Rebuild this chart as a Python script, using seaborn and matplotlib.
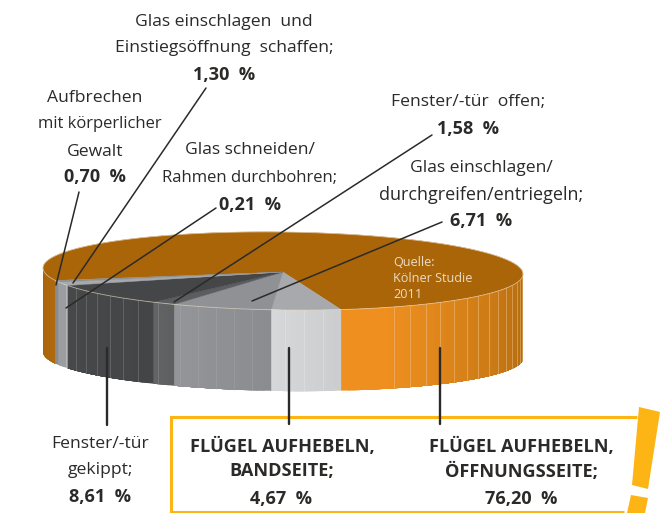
import numpy as np
import matplotlib
matplotlib.use("Agg")
import matplotlib.pyplot as plt
import pandas as pd
import seaborn as sns

# ---- data, in drawing order (from the orange slice's front edge, clockwise on screen)
categories = ["Flügel aufhebeln, Öffnungsseite", "Flügel aufhebeln, Bandseite",
              "Glas einschlagen/durchgreifen/entriegeln", "Fenster/-tür offen",
              "Fenster/-tür gekippt", "Glas schneiden/Rahmen durchbohren",
              "Glas einschlagen und Einstiegsöffnung schaffen", "Aufbrechen mit körperlicher Gewalt"]
values = [76.20, 4.67, 6.71, 1.58, 8.61, 0.21, 1.30, 0.70]
top_colors = ["#AA6509", "#A7A9AC", "#8F9194", "#5C5D60", "#454648", "#6F7072", "#A7A9AC", "#8E9093"]
side_front = ["#EE8F1F", "#D6D7D9", "#939598", "#636466", "#47484A", "#9B9DA0", "#9B9DA0", "#8A8B8E"]
side_back = ["#AE690E", "#CBCDCF", "#8A8C8F", "#5E5F61", "#444547", "#9B9DA0", "#9B9DA0", "#8A8B8E"]

sns.set_theme(style="white", rc={"font.family": ["Open Sans", "DejaVu Sans"]})
fig = plt.figure(figsize=(6.61, 5.13), dpi=100)
ax = fig.add_axes([0, 0, 1, 1])
sns.despine(ax=ax, left=True, bottom=True)

# ---- pie geometry: angles grow from +x toward the viewer (screen y points down)
CX, CY, RX, RY, TILT = 283, 271, 240, 39, 0.0125
DEPTH_C, RY_B = 84, 36
ORANGE_FRONT = 76.0
STEP = 4.5


def top_pt(a):
    x = CX + RX * np.cos(np.radians(a))
    return x, CY + RY * np.sin(np.radians(a)) + (x - CX) * TILT


def bot_pt(a):
    x = CX + RX * np.cos(np.radians(a))
    return x, CY + DEPTH_C + RY_B * np.sin(np.radians(a)) + (x - CX) * TILT


def arc(a0, a1, fn, n=None):
    n = n or max(2, int(abs(a1 - a0)) + 2)
    return np.array([fn(a) for a in np.linspace(a0, a1, n)]).T


fracs = np.array(values) / sum(values) * 360
edges = ORANGE_FRONT + np.r_[0, np.cumsum(fracs[1:])]
spans = [(edges[0], edges[-1] - 360)] + [(edges[i - 1], edges[i]) for i in range(1, len(values))]

for i, (a0, a1) in enumerate(spans):
    xs, ys = arc(a0, a1, top_pt)
    ax.fill(np.r_[CX, xs], np.r_[CY + 1, ys], color=top_colors[i], lw=0.3, ec=top_colors[i], zorder=2)

# side faces: coarse overlapping bands for a smooth shade, thin highlights every STEP degrees
for i, (a0, a1) in enumerate(spans):
    pieces = [(a0, 0.0), (180.0, a1 + 360)] if i == 0 else [(a0, a1)]
    for p0, p1 in pieces:
        n = max(1, int(round(abs(p1 - p0) / 1.5)))
        ae = np.linspace(p0, p1, n + 1)
        if i == 0 and p0 > 100:
            pal = sns.blend_palette(["#A96408", "#AE690E"], n)
        elif i == 0:
            hold = int(n * 0.14)
            pal = [side_front[0]] * hold + list(sns.blend_palette([side_front[0], side_back[0]], n - hold))
        else:
            pal = sns.blend_palette([side_back[i], side_front[i]], n)
        # each band runs from its own start to the far end, so later bands cover the seams
        for k in range(n):
            tx, ty = arc(ae[k], p1, top_pt)
            bx, by = arc(p1, ae[k], bot_pt)
            ax.fill(np.r_[tx, bx], np.r_[ty, by], color=pal[k], lw=0, zorder=3)
        if abs(p1 - p0) > 5 and not (i == 0 and p0 > 100):
            m = int(abs(p1 - p0) // STEP)
            for j in range(1, m + 1):
                if i == 0 and j < 3:
                    continue
                a = p0 + np.sign(p1 - p0) * j * STEP
                x0, y0 = top_pt(a)
                x1, y1 = bot_pt(a)
                col = "#F3C890" if i == 0 else "#E6E7E8" if i == 1 else "#B5B6B8"
                al = 0.55 if i < 2 else 0.3
                ax.plot([x0, x1], [y0, y1], color=col, lw=0.6, alpha=al, zorder=4)

rx, ry = arc(0, 360, top_pt, 361)
ax.plot(rx, ry, color="#E8D9C4", lw=0.6, alpha=0.7, zorder=5)

# ---- leader lines
leaders = pd.DataFrame({
    "id": [0, 0, 1, 1, 2, 2, 3, 3, 4, 4, 5, 5, 6, 6, 7, 7],
    "x": [79, 56, 206, 73, 216, 66, 432, 174, 442, 252, 107, 107, 289, 289, 440, 440],
    "y": [192, 285, 88, 283, 208, 308, 135, 302, 222, 301, 348, 425, 348, 424, 348, 424],
})
sns.lineplot(data=leaders[leaders.id < 5], x="x", y="y", units="id", estimator=None, sort=False,
             color="#2B2A29", lw=1.1, ax=ax, zorder=6)
sns.lineplot(data=leaders[leaders.id >= 5], x="x", y="y", units="id", estimator=None, sort=False,
             color="#2B2A29", lw=1.7, ax=ax, zorder=8)
ax.set_xlim(0, 661)
ax.set_ylim(513, 0)
ax.axis("off")

# ---- yellow box and exclamation mark
YEL = "#FDB515"
ax.plot([637, 171, 171, 624], [417, 417, 512, 512], color=YEL, lw=2.2, zorder=7,
        solid_joinstyle="miter", solid_capstyle="butt")
ax.fill([639, 660, 648, 632], [407, 412, 489, 485], color=YEL, lw=0, zorder=7)
ax.fill([631, 648, 645, 627], [495, 498, 513, 513], color=YEL, lw=0, zorder=7)


def pct(i):
    return f"{values[i]:.2f}  %".replace(".", ",")


TXT = "#2B2A29"
BASE, NARROW, BOLD = 12.6, 12.0, 13.1
DY = 1.5
labels = [
    (224, 21, "Glas einschlagen  und", BASE), (224, 47, "Einstiegsöffnung  schaffen;", BASE), (224, 73, pct(6), BOLD),
    (95, 97, "Aufbrechen", BASE), (100, 123, "mit körperlicher", NARROW), (95, 150, "Gewalt", BASE), (95, 176, pct(7), BOLD),
    (250, 149, "Glas schneiden/", BASE), (250, 176, "Rahmen durchbohren;", NARROW), (250, 203, pct(5), BOLD),
    (468, 101, "Fenster/-tür  offen;", BASE), (468, 127, pct(3), BOLD),
    (481, 166, "Glas einschlagen/", BASE), (481, 193, "durchgreifen/entriegeln;", 13.0), (481, 219, pct(2), BOLD),
    (100, 443, "Fenster/-tür", BASE), (100, 469, "gekippt;", BASE), (100, 495, pct(4), BOLD),
    (282, 445, "FLÜGEL AUFHEBELN,", BOLD), (282, 470, "BANDSEITE;", BOLD), (281, 497, pct(1), BOLD),
    (521, 445, "FLÜGEL AUFHEBELN,", BOLD), (521, 470, "ÖFFNUNGSSEITE;", BOLD), (521, 497, pct(0), BOLD),
]
for x, y, s, fs in labels:
    ax.text(x, y + DY, s, ha="center", va="center", fontsize=fs, color=TXT,
            fontweight="bold" if fs == BOLD else "normal", zorder=9)
for y, s in zip([262, 277, 293], ["Quelle:", "Kölner Studie", "2011"]):
    ax.text(393, y + 1, s, ha="left", va="center", fontsize=9.1, color="#EBDCC6", zorder=9)

fig.savefig("out.png", dpi=100)
